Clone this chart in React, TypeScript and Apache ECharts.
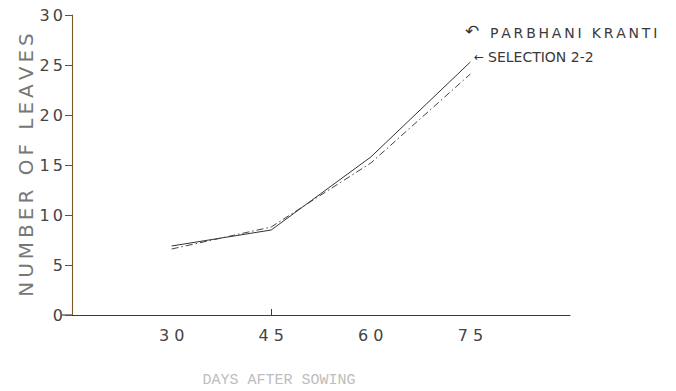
import React, { useEffect, useRef } from "react";
import * as echarts from "echarts";

const days = [30, 45, 60, 75];
const parbhaniKranti = [6.9, 8.5, 15.8, 25.3];
const selection22 = [6.6, 8.8, 15.2, 24.1];
const yTicks = [0, 5, 10, 15, 20, 25, 30];

const spaced = (s: string, sep: string) => s.split("").join(sep);

export default function App() {
  const ref = useRef<HTMLDivElement>(null);
  useEffect(() => {
    const chart = echarts.init(ref.current!, null, { renderer: "svg" });
    const font = "DejaVu Sans";
    chart.setOption({
      animation: false,
      backgroundColor: "#ffffff",
      grid: { left: 72, right: 106, top: 15, bottom: 76 },
      xAxis: {
        type: "value",
        min: 15,
        max: 90,
        splitLine: { show: false },
        axisLine: { lineStyle: { color: "#3a3a3a", width: 1.1 } },
        axisTick: { show: true, customValues: [45], inside: true, length: 6, lineStyle: { color: "#3a3a3a" } },
        axisLabel: {
          customValues: days,
          color: "#444",
          fontFamily: font,
          fontSize: 16,
          margin: 12,
          formatter: (v: number) => spaced(String(v), " "),
        },
      },
      yAxis: {
        type: "value",
        min: 0,
        max: 30,
        interval: 5,
        splitLine: { show: false },
        axisLine: { lineStyle: { color: "#7a5a2a", width: 1.1 } },
        axisTick: { show: true, length: 7, lineStyle: { color: "#555" } },
        axisLabel: {
          customValues: yTicks,
          color: "#444",
          fontFamily: font,
          fontSize: 16,
          margin: 9,
          formatter: (v: number) => spaced(String(v), "\u2009"),
        },
        name: spaced("NUMBER OF LEAVES", "\u2009"),
        nameLocation: "middle",
        nameGap: 36,
        nameMoveOverlap: false,
        nameTextStyle: { color: "#777", fontFamily: font, fontSize: 20 },
      },
      series: [
        {
          name: "PARBHANI KRANTI",
          type: "line",
          data: days.map((d, i) => [d, parbhaniKranti[i]]),
          symbol: "none",
          lineStyle: { color: "#333", width: 1, type: "solid" },
        },
        {
          name: "SELECTION 2-2",
          type: "line",
          data: days.map((d, i) => [d, selection22[i]]),
          symbol: "none",
          lineStyle: { color: "#444", width: 1, type: [7, 3, 1.5, 3] },
        },
      ],
      graphic: [
        { type: "line", shape: { x1: 62, y1: 315, x2: 72, y2: 315 }, style: { stroke: "#3a3a3a", lineWidth: 1.1 } },
        { type: "text", x: 465, y: 22, style: { text: "↶", fill: "#333", font: "17px DejaVu Sans" } },
        { type: "text", x: 490, y: 26, style: { text: spaced("PARBHANI KRANTI", "\u2009"), fill: "#3a3a3a", font: "14px DejaVu Sans" } },
        { type: "text", x: 474, y: 51, style: { text: "←", fill: "#333", font: "12px DejaVu Sans" } },
        { type: "text", x: 488, y: 50, style: { text: "SELECTION 2-2", fill: "#3a3a3a", font: "14px DejaVu Sans" } },
        { type: "text", x: 279, y: 380, style: { text: "DAYS AFTER SOWING", fill: "#bdbdbd", font: "15px Liberation Mono", align: "center", verticalAlign: "middle" } },
      ],
    });
    return () => chart.dispose();
  }, []);
  return <div ref={ref} style={{ width: 676, height: 391, position: "absolute", left: 0, top: 0 }} />;
}
